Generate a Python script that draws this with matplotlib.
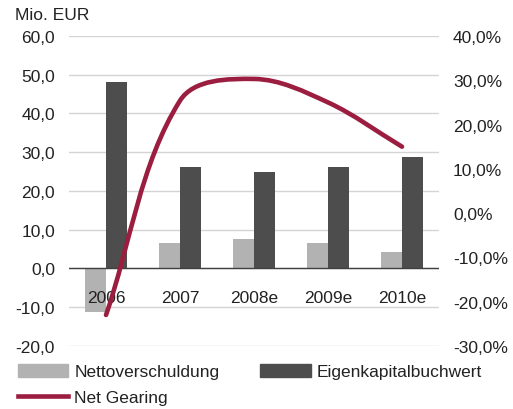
import numpy as np
import matplotlib
matplotlib.use("Agg")
import matplotlib.pyplot as plt
from matplotlib.path import Path
from matplotlib.patches import PathPatch, Patch
from matplotlib.lines import Line2D
from matplotlib.ticker import FuncFormatter, MultipleLocator

plt.rcParams["font.family"] = ["Liberation Sans", "DejaVu Sans"]

years = ["2006", "2007", "2008e", "2009e", "2010e"]
netto = [-11.3, 6.5, 7.5, 6.5, 4.2]
eigen = [48.0, 26.1, 24.8, 26.1, 28.7]
gearing = [-23.0, 25.4, 30.3, 25.0, 15.0]

light = "#b2b2b2"
dark = "#4d4d4d"
red = "#9b1d3f"
txt = "#222222"
fs = 12.5


def smooth_path(ax, xs, ys, k=1.0):
    # smoothed line in screen space, tangent length scaled per segment
    pts = ax.transData.transform(np.column_stack([xs, ys]).astype(float))
    n = len(pts)
    tang = []
    for i in range(n):
        a = pts[max(i - 1, 0)]
        b = pts[min(i + 1, n - 1)]
        d = b - a
        tang.append(d / np.hypot(*d))
    verts = [pts[0]]
    codes = [Path.MOVETO]
    for i in range(n - 1):
        seg = np.hypot(*(pts[i + 1] - pts[i])) / 3 * k
        verts += [pts[i] + tang[i] * seg, pts[i + 1] - tang[i + 1] * seg, pts[i + 1]]
        codes += [Path.CURVE4] * 3
    verts = ax.transData.inverted().transform(np.array(verts))
    return Path(verts, codes)


fig = plt.figure(figsize=(5.13, 4.10), dpi=100)
ax = fig.add_axes([0.1345, 0.1537, 0.7213, 0.7561])
ax2 = ax.twinx()

x = np.arange(len(years))
w = 0.29
ax.bar(x - w / 2, netto, w, color=light, zorder=2)
ax.bar(x + w / 2, eigen, w, color=dark, zorder=2)

ax.set_ylim(-20, 60)
ax.set_xlim(-0.5, 4.5)
ax.yaxis.set_major_locator(MultipleLocator(10))
ax.yaxis.set_major_formatter(FuncFormatter(lambda v, p: f"{v:.1f}".replace(".", ",")))
ax.grid(axis="y", color="#d4d4d4", linewidth=1, zorder=0)
ax.set_axisbelow(True)
ax.axhline(0, color="#404040", linewidth=1, zorder=3)
ax.set_xticks([])
for s in ax.spines.values():
    s.set_visible(False)
for s in ax2.spines.values():
    s.set_visible(False)
ax.tick_params(axis="y", length=0, pad=10, labelsize=fs, colors=txt)

for i, lab in enumerate(years):
    ax.annotate(lab, (i, 0), xytext=(0, -21), textcoords="offset points",
                ha="center", va="center", fontsize=fs, color=txt, zorder=4)

ax2.set_ylim(-30, 40)
ax2.set_xlim(-0.5, 4.5)
ax2.yaxis.set_major_locator(MultipleLocator(10))
ax2.yaxis.set_major_formatter(FuncFormatter(lambda v, p: f"{v:.1f}%".replace(".", ",")))
ax2.tick_params(axis="y", length=0, pad=10, labelsize=fs, colors=txt)

ax2.add_patch(PathPatch(smooth_path(ax2, x, gearing), facecolor="none", edgecolor=red,
                        linewidth=3.3, capstyle="round", zorder=5))

fig.text(0.03, 0.963, "Mio. EUR", fontsize=fs, va="center", ha="left", color=txt)

handles = [Patch(color=light), Line2D([], [], color=red, linewidth=3.3),
           Patch(color=dark)]
labels = ["Nettoverschuldung", "Net Gearing", "Eigenkapitalbuchwert"]
fig.legend(handles, labels, ncol=2, loc="upper left", bbox_to_anchor=(0.035, 0.11),
           frameon=False, fontsize=fs, handlelength=2.9, handleheight=0.75,
           handletextpad=0.35, columnspacing=2.35, labelspacing=0.58, borderaxespad=0,
           borderpad=0, labelcolor=txt)

fig.savefig("out.png", dpi=100)
